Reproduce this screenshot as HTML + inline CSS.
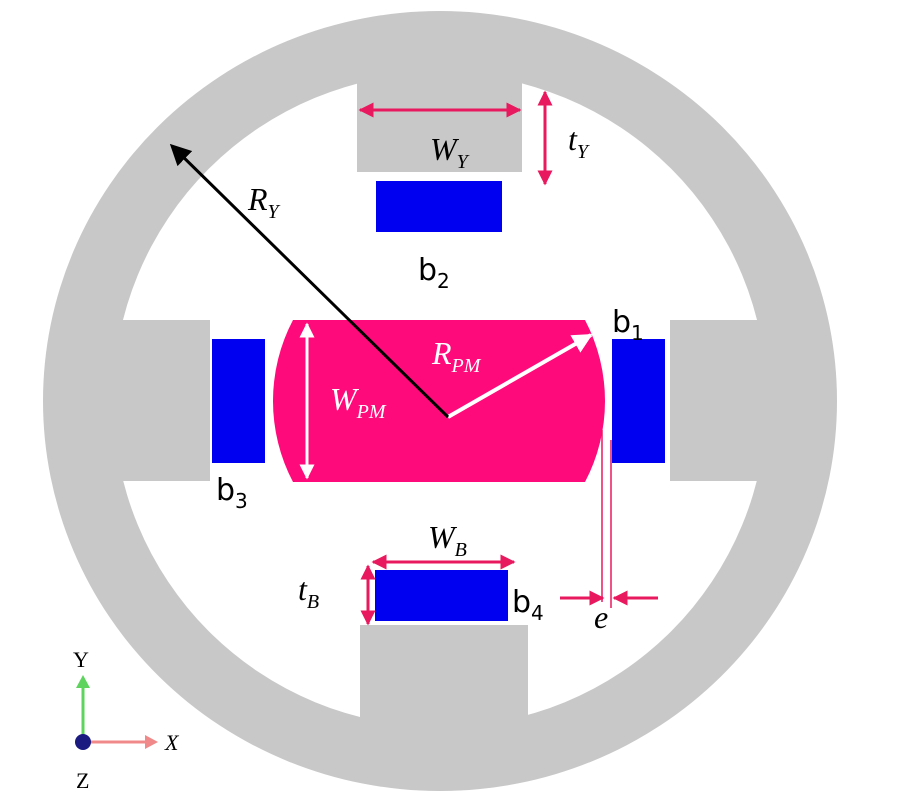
<!DOCTYPE html>
<html><head><meta charset="utf-8"><style>
html,body{margin:0;padding:0;background:#fff;}
svg{display:block;}
text{font-family:"Liberation Serif",serif;font-style:italic;}
.s{font-family:"DejaVu Sans","Liberation Sans",sans-serif;font-style:normal;}
.n{font-style:normal;}
</style></head><body>
<svg width="900" height="800" viewBox="0 0 900 800">
<defs>
<marker id="pk" markerWidth="5" markerHeight="5" refX="4.5" refY="2.5" orient="auto-start-reverse" markerUnits="strokeWidth"><path d="M0,0 L5,2.5 L0,5 Z" fill="#e8195e"/></marker>
<marker id="wh" markerWidth="5" markerHeight="5" refX="4.5" refY="2.5" orient="auto-start-reverse" markerUnits="strokeWidth"><path d="M0,0 L5,2.5 L0,5 Z" fill="#fff"/></marker>
<marker id="bk" markerWidth="7" markerHeight="7" refX="6" refY="3.5" orient="auto" markerUnits="strokeWidth"><path d="M0,0 L7,3.5 L0,7 Z" fill="#000"/></marker>
<mask id="ring"><rect width="900" height="800" fill="#fff"/><circle cx="440" cy="400" r="327" fill="#000"/></mask>
</defs>
<ellipse cx="440" cy="401" rx="397" ry="390" fill="#c8c8c8" mask="url(#ring)"/>
<rect x="357" y="60" width="165" height="112" fill="#c8c8c8"/>
<rect x="360" y="625" width="168" height="110" fill="#c8c8c8"/>
<rect x="100" y="320" width="110" height="161" fill="#c8c8c8"/>
<rect x="670" y="320" width="110" height="161" fill="#c8c8c8"/>
<rect x="376" y="181" width="126" height="51" fill="#0000f0"/>
<rect x="375" y="570" width="133" height="51" fill="#0000f0"/>
<rect x="212" y="339" width="53" height="124" fill="#0000f0"/>
<rect x="612" y="339" width="53" height="124" fill="#0000f0"/>
<path d="M293,320 L585,320 A174,174 0 0 1 585,482 L293,482 A174,174 0 0 1 293,320 Z" fill="#ff0a7a"/>
<line x1="307" y1="324" x2="307" y2="478" stroke="#fff" stroke-width="3" marker-start="url(#wh)" marker-end="url(#wh)"/>
<line x1="448" y1="417" x2="591" y2="335" stroke="#fff" stroke-width="4" marker-end="url(#wh)"/>
<line x1="448" y1="417" x2="172" y2="146" stroke="#000" stroke-width="3" marker-end="url(#bk)"/>
<line x1="360" y1="110" x2="520" y2="110" stroke="#e8195e" stroke-width="3" marker-start="url(#pk)" marker-end="url(#pk)"/>
<line x1="545" y1="92" x2="545" y2="184" stroke="#e8195e" stroke-width="3" marker-start="url(#pk)" marker-end="url(#pk)"/>
<line x1="373" y1="562" x2="514" y2="562" stroke="#e8195e" stroke-width="3" marker-start="url(#pk)" marker-end="url(#pk)"/>
<line x1="368" y1="566" x2="368" y2="624" stroke="#e8195e" stroke-width="3" marker-start="url(#pk)" marker-end="url(#pk)"/>
<line x1="560" y1="598" x2="603" y2="598" stroke="#e8195e" stroke-width="3" marker-end="url(#pk)"/>
<line x1="658" y1="598" x2="614" y2="598" stroke="#e8195e" stroke-width="3" marker-end="url(#pk)"/>
<line x1="602" y1="430" x2="602" y2="602" stroke="#e8195e" stroke-width="1.5"/>
<line x1="611" y1="440" x2="611" y2="608" stroke="#e8195e" stroke-width="1.5"/>
<text x="430" y="160" font-size="32">W<tspan font-size="20" dy="8">Y</tspan></text>
<text x="568" y="150" font-size="32">t<tspan font-size="20" dy="8">Y</tspan></text>
<text x="248" y="210" font-size="32">R<tspan font-size="20" dy="8">Y</tspan></text>
<text x="432" y="364" font-size="32" fill="#fff">R<tspan font-size="20" dy="8">PM</tspan></text>
<text x="330" y="410" font-size="32" fill="#fff">W<tspan font-size="20" dy="8">PM</tspan></text>
<text x="428" y="548" font-size="32">W<tspan font-size="20" dy="8">B</tspan></text>
<text x="298" y="600" font-size="32">t<tspan font-size="20" dy="8">B</tspan></text>
<text x="594" y="628" font-size="32">e</text>
<text class="s" x="418" y="280" font-size="30">b<tspan font-size="20" dy="8">2</tspan></text>
<text class="s" x="612" y="332" font-size="30">b<tspan font-size="20" dy="8">1</tspan></text>
<text class="s" x="216" y="500" font-size="30">b<tspan font-size="20" dy="8">3</tspan></text>
<text class="s" x="512" y="612" font-size="30">b<tspan font-size="20" dy="8">4</tspan></text>
<line x1="83" y1="742" x2="83" y2="685" stroke="#5ed35e" stroke-width="3"/>
<path d="M76,688 L83,675 L90,688 Z" fill="#5ed35e"/>
<line x1="83" y1="742" x2="148" y2="742" stroke="#f08a8a" stroke-width="3"/>
<path d="M145,735 L158,742 L145,749 Z" fill="#f08a8a"/>
<circle cx="83" cy="742" r="8" fill="#1a1a80"/>
<text class="n" x="73" y="667" font-size="22">Y</text>
<text x="165" y="750" font-size="22">X</text>
<text class="n" x="76" y="788" font-size="22">Z</text>
</svg>
</body></html>
